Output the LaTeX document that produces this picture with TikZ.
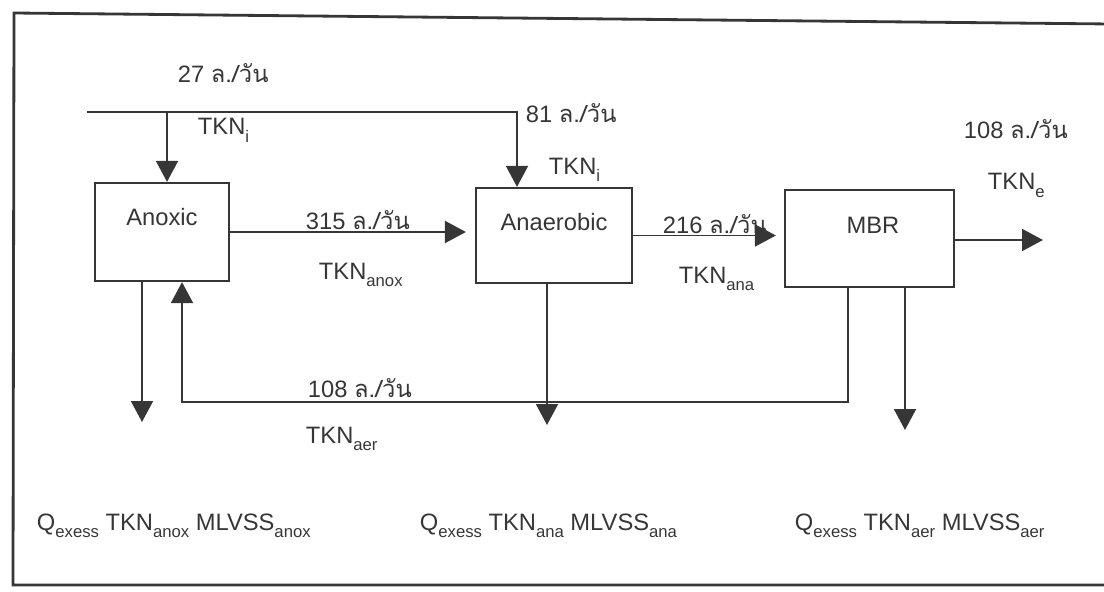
\documentclass[tikz,border=0pt]{standalone}
\usepackage{fontspec}
\setmainfont{Liberation Sans}
\newfontfamily\thaifont[Script=Thai]{Loma}
\usetikzlibrary{arrows.meta,positioning,calc}
\definecolor{ScanInk}{HTML}{363636}
\newcommand{\lpd}{{\thaifont ล./วัน}}
\newcommand{\idx}[1]{\raisebox{-0.6ex}{\fontsize{9.5}{10}\selectfont #1}}

\begin{document}
\begin{tikzpicture}[x=0.02cm,y=-0.02cm,font=\fontsize{13.5}{16}\selectfont,line width=1.1pt,
  box/.style={draw=ScanInk,line width=1.3pt,inner sep=0pt},
  flow/.style={draw=ScanInk,-{Triangle[length=0.42cm,width=0.44cm]}},
  lbl/.style={text=ScanInk,anchor=base west,inner sep=0pt},
  ttl/.style={text=ScanInk,anchor=base,inner sep=0pt}]
  \useasboundingbox (0,0) rectangle (1104,591);
  % --- cadre
  \draw[ScanInk,line width=1.6pt] (1110,24) -- (14,13) -- (13,585) -- (1110,585);
  % --- bassins
  \node[box,minimum width=2.68cm,minimum height=1.96cm] (anox) at (162,232) {};
  \node[box,minimum width=3.12cm,minimum height=1.9cm] (anaer) at (554,235.5) {};
  \node[box,minimum width=3.38cm,minimum height=1.94cm] (mbr) at (869.5,238.5) {};
  \node[ttl] (anoxT) at (162,225) {Anoxic};
  \node[ttl] (anaerT) at (554,230) {Anaerobic};
  \node[ttl] (mbrT) at (873,233) {MBR};
  % --- alimentation
  \coordinate (feed) at (87,112);
  \coordinate (feedA) at (167,112);
  \coordinate (feedB) at (517,112);
  \draw[flow] (feed) -- (feedB) -- (feedB |- anaer.north);
  \draw[flow] (feedA) -- (feedA |- anox.north);
  \node[lbl] (q27) at (177,83) {27 \lpd};
  \node[lbl] (tkniA) at (197,135) {TKN\idx{i}};
  \node[lbl] (q81) at (525,123) {81 \lpd};
  \node[lbl] (tkniB) at (548,174) {TKN\idx{i}};
  % --- liaisons entre bassins
  \draw[flow,shorten >=0.18cm] (anox.east) -- (anox.east -| anaer.west);
  \draw[flow,shorten >=0.16cm] (anaer.east) -- (anaer.east -| mbr.west);
  \coordinate (eff) at (1043,240);
  \draw[flow] (mbr.east |- eff) -- (eff);
  \node[lbl] (q315) at (305,229) {315 \lpd};
  \node[lbl] (tknanox) at (318,279) {TKN\idx{anox}};
  \node[lbl] (q216) at (662,233) {216 \lpd};
  \node[lbl] (tknana) at (678,283) {TKN\idx{ana}};
  \node[lbl] (q108e) at (963,139) {108 \lpd};
  \node[lbl] (tkne) at (987,190) {TKN\idx{e}};
  % --- boues en exces et recirculation
  \coordinate (wasteA) at (142,422);
  \coordinate (wasteB) at (547,425);
  \coordinate (wasteC) at (905,430);
  \draw[flow] (wasteA |- anox.south) -- (wasteA);
  \draw[flow] (wasteB |- anaer.south) -- (wasteB);
  \draw[flow] (wasteC |- mbr.south) -- (wasteC);
  \coordinate (retR) at (848,402);
  \coordinate (retL) at (182,402);
  \draw[flow] (retR |- mbr.south) -- (retR) -- (retL) -- (retL |- anox.south);
  \node[lbl] (q108r) at (307,397) {108 \lpd};
  \node[lbl] (tknaer) at (305,443) {TKN\idx{aer}};
  % --- bilans
  \node[lbl] (exA) at (36,530) {Q\idx{exess} TKN\idx{anox} MLVSS\idx{anox}};
  \node[lbl] (exB) at (419,530) {Q\idx{exess} TKN\idx{ana} MLVSS\idx{ana}};
  \node[lbl] (exC) at (794,530) {Q\idx{exess} TKN\idx{aer} MLVSS\idx{aer}};
\end{tikzpicture}
\end{document}
